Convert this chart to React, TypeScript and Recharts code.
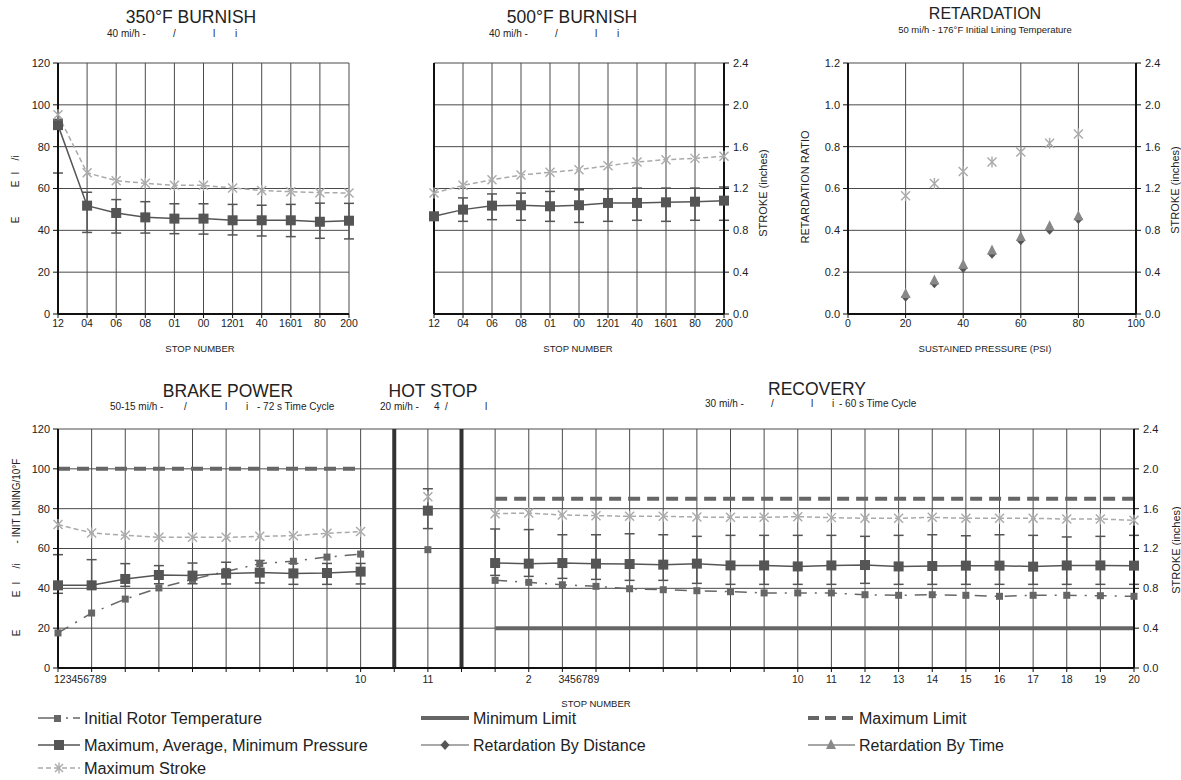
import React from 'react';
import { LineChart, ComposedChart, Line, XAxis, YAxis, CartesianGrid, ErrorBar, ReferenceLine } from 'recharts';

const FONT = '"Liberation Sans", Arial, Helvetica, sans-serif';
const TEXT = '#222';
const GRID = '#4a4a4a';
const AXIS = '#111';
const PRESS = '#555';
const TEMPC = '#666';
const STROKEC = '#aaa';
const LIMITC = '#666';
const DISTC = '#555';
const TIMEC = '#888';

// ---------- tick values ----------
const pressureTicks = [0, 20, 40, 60, 80, 100, 120];
const pressureMinorTicks = [0, 5, 10, 15, 20, 25, 30, 35, 40, 45, 50, 55, 60, 65, 70, 75, 80, 85, 90, 95, 100, 105, 110, 115, 120];
const strokeTicks = [0, 0.4, 0.8, 1.2, 1.6, 2.0, 2.4];
const strokeMinorTicks = [0, 0.1, 0.2, 0.3, 0.4, 0.5, 0.6, 0.7, 0.8, 0.9, 1.0, 1.1, 1.2, 1.3, 1.4, 1.5, 1.6, 1.7, 1.8, 1.9, 2.0, 2.1, 2.2, 2.3, 2.4];
const ratioTicks = [0, 0.2, 0.4, 0.6, 0.8, 1.0, 1.2];
const psiTicks = [0, 20, 40, 60, 80, 100];

// ---------- 350°F burnish ----------
const burnishStops = ['12', '04', '06', '08', '01', '00', '1201', '40', '1601', '80', '200'];
const b350Pressure = [90.3, 51.8, 48.3, 46.2, 45.6, 45.6, 44.8, 44.8, 44.8, 44.1, 44.6];
const b350Max = [93.0, 58.2, 54.7, 53.7, 52.7, 52.7, 52.4, 52.0, 52.4, 53.0, 52.9];
const b350Min = [67.4, 39.0, 38.7, 38.7, 38.4, 38.2, 37.8, 37.3, 37.0, 36.2, 35.9];
const b350Stroke = [1.906, 1.35, 1.275, 1.25, 1.23, 1.23, 1.205, 1.18, 1.17, 1.16, 1.157];

// ---------- 500°F burnish ----------
const b500Pressure = [46.7, 49.9, 51.8, 52.0, 51.5, 52.0, 53.1, 53.1, 53.4, 53.7, 54.2];
const b500Max = [48.5, 55.5, 57.4, 57.8, 58.6, 59.4, 59.9, 60.2, 60.2, 60.2, 60.7];
const b500Min = [45.0, 44.3, 45.1, 44.8, 44.3, 43.8, 44.3, 44.8, 44.3, 44.8, 44.8];
const b500Stroke = [1.157, 1.23, 1.284, 1.329, 1.355, 1.38, 1.418, 1.453, 1.476, 1.488, 1.508];

// ---------- retardation ----------
const retPsi = [20, 30, 40, 50, 60, 70, 80];
const retStroke = [1.13, 1.248, 1.363, 1.453, 1.549, 1.632, 1.722];
const retDistance = [0.083, 0.147, 0.22, 0.288, 0.352, 0.403, 0.454];
const retTime = [0.096, 0.16, 0.235, 0.304, 0.368, 0.419, 0.467];

// ---------- brake power ----------
const bpPressure = [41.5, 41.5, 44.7, 46.7, 46.4, 47.4, 47.9, 47.5, 47.7, 48.4];
const bpMax = [56.9, 54.4, 52.4, 51.4, 52.7, 53.1, 54.0, 52.5, 52.5, 52.5];
const bpMin = [37.5, 40.0, 41.0, 42.3, 42.3, 42.2, 42.7, 42.0, 42.0, 42.2];
const bpTemp = [17.6, 27.6, 34.6, 40.2, 44.5, 48.5, 52.4, 53.6, 55.7, 57.2];
const bpStroke = [1.44, 1.356, 1.332, 1.312, 1.312, 1.312, 1.322, 1.329, 1.352, 1.37];
const bpMaxLimit = 100;

// ---------- hot stop ----------
const hsPressure = [79];
const hsMax = [90];
const hsMin = [70];
const hsTemp = [59.4];
const hsStroke = [1.72];

// ---------- recovery ----------
const rcPressure = [52.7, 52.4, 52.7, 52.4, 52.2, 51.9, 52.4, 51.5, 51.5, 51.0, 51.5, 51.7, 51.0, 51.2, 51.4, 51.4, 50.9, 51.5, 51.5, 51.4];
const rcMax = [69.8, 69.5, 66.9, 66.9, 67.4, 66.9, 66.1, 66.6, 66.6, 66.6, 66.6, 66.1, 66.6, 66.9, 66.4, 66.9, 66.6, 65.8, 66.1, 66.6];
const rcMin = [46.5, 46.0, 45.0, 44.5, 44.0, 44.0, 42.5, 42.0, 42.0, 42.0, 42.0, 42.5, 42.0, 42.0, 42.0, 42.0, 42.0, 42.0, 42.0, 42.0];
const rcTemp = [44.0, 43.0, 41.8, 41.0, 39.8, 39.3, 38.8, 38.3, 37.7, 37.7, 37.7, 36.8, 36.5, 36.8, 36.5, 36.0, 36.5, 36.5, 36.3, 36.0];
const rcStroke = [1.55, 1.556, 1.536, 1.53, 1.523, 1.523, 1.516, 1.513, 1.513, 1.52, 1.51, 1.503, 1.503, 1.513, 1.503, 1.503, 1.503, 1.496, 1.496, 1.483];
const rcMaxLimit = 85;
const rcMinLimit = 20;

// bottom stop axis: 10 brake-power stops, separator, hot stop, separator, 20 recovery stops
const bottomPositions = [0, 1, 2, 3, 4, 5, 6, 7, 8, 9, 10, 11, 12, 13, 14, 15, 16, 17, 18, 19, 20, 21, 22, 23, 24, 25, 26, 27, 28, 29, 30, 31, 32];
const bottomTickLabels = ['123456789', '', '', '', '', '', '', '', '', '10', '', '11', '', '', '2', '3456789', '', '', '', '', '', '', '10', '11', '12', '13', '14', '15', '16', '17', '18', '19', '20'];
const separatorPositions = [10, 12];
const hotStopPosition = 11;
const recoveryFirstPosition = 13;

// ---------- data tables built from arrays ----------
const makeBurnish = (p: number[], mx: number[], mn: number[], s: number[]) =>
  burnishStops.map((stop, i) => ({ stop, pressure: p[i], err: [p[i] - mn[i], mx[i] - p[i]], stroke: s[i] }));
const b350Data = makeBurnish(b350Pressure, b350Max, b350Min, b350Stroke);
const b500Data = makeBurnish(b500Pressure, b500Max, b500Min, b500Stroke);
const retData = retPsi.map((psi, i) => ({ psi, stroke: retStroke[i], dist: retDistance[i], time: retTime[i] }));

const bottomData = bottomPositions.map((pos) => {
  if (pos < bpPressure.length) {
    const i = pos;
    return { pos, pressure: bpPressure[i], err: [bpPressure[i] - bpMin[i], bpMax[i] - bpPressure[i]], temp: bpTemp[i], stroke: bpStroke[i], maxLimit: bpMaxLimit, minLimit: null };
  }
  if (pos === hotStopPosition) {
    return { pos, pressure: hsPressure[0], err: [hsPressure[0] - hsMin[0], hsMax[0] - hsPressure[0]], temp: hsTemp[0], stroke: hsStroke[0], maxLimit: null, minLimit: null };
  }
  if (pos >= recoveryFirstPosition) {
    const i = pos - recoveryFirstPosition;
    return { pos, pressure: rcPressure[i], err: [rcPressure[i] - rcMin[i], rcMax[i] - rcPressure[i]], temp: rcTemp[i], stroke: rcStroke[i], maxLimit: rcMaxLimit, minLimit: rcMinLimit };
  }
  return { pos, pressure: null, err: null, temp: null, stroke: null, maxLimit: null, minLimit: null };
});

// ---------- markers ----------
const bad = (p: any) => p.cx == null || p.cy == null || isNaN(p.cx) || isNaN(p.cy) || p.value == null;
const squareDot = (size: number, fill: string) => (p: any) => {
  if (bad(p)) return <g key={`e${p.index}`} />;
  return <rect key={`s${p.index}`} x={p.cx - size / 2} y={p.cy - size / 2} width={size} height={size} fill={fill} />;
};
const starDot = (p: any) => {
  if (bad(p)) return <g key={`e${p.index}`} />;
  const r = 4.5;
  const { cx, cy } = p;
  return (
    <g key={`x${p.index}`} stroke={STROKEC} strokeWidth={1.4}>
      <line x1={cx - r} y1={cy - r} x2={cx + r} y2={cy + r} />
      <line x1={cx - r} y1={cy + r} x2={cx + r} y2={cy - r} />
      <line x1={cx} y1={cy - r - 1} x2={cx} y2={cy + r + 1} />
    </g>
  );
};
const diamondDot = (p: any) => {
  if (bad(p)) return <g key={`e${p.index}`} />;
  const { cx, cy } = p;
  return <polygon key={`d${p.index}`} points={`${cx},${cy - 5} ${cx + 4.5},${cy} ${cx},${cy + 5} ${cx - 4.5},${cy}`} fill={DISTC} />;
};
const triangleDot = (p: any) => {
  if (bad(p)) return <g key={`e${p.index}`} />;
  const { cx, cy } = p;
  return <polygon key={`t${p.index}`} points={`${cx},${cy - 6} ${cx + 5},${cy + 4} ${cx - 5},${cy + 4}`} fill={TIMEC} />;
};

const tickStyle = { fontSize: 11, fill: TEXT, fontFamily: FONT };
const xTickStyle = { fontSize: 10.5, fill: TEXT, fontFamily: FONT };
const axisLineStyle = { stroke: AXIS, strokeWidth: 2 };
const tickLineStyle = { stroke: AXIS, strokeWidth: 1 };
const fmt1 = (v: number) => v.toFixed(1);

const BottomTick = (props: any) => {
  const { x, y, payload } = props;
  const label = bottomTickLabels[payload.value] || '';
  if (!label) return <g />;
  const long = label.length > 2;
  return (
    <text x={long ? x - 4 : x} y={y + 9} textAnchor={long ? 'start' : 'middle'} fontSize={10.5} fill={TEXT} fontFamily={FONT}>
      {label}
    </text>
  );
};

const Rot = ({ x, y, children, size = 10 }: any) => (
  <text x={x} y={y} transform={`rotate(-90 ${x} ${y})`} textAnchor="middle" dominantBaseline="central" fontSize={size} fill={TEXT} fontFamily={FONT}>
    {children}
  </text>
);
const T = ({ x, y, children, size = 10, anchor = 'start' }: any) => (
  <text x={x} y={y} textAnchor={anchor} fontSize={size} fill={TEXT} fontFamily={FONT}>
    {children}
  </text>
);

const BurnishChart = ({ data, showLeftLabels }: any) => (
  <LineChart width={400} height={360} data={data} margin={showLeftLabels ? { top: 63, right: 51, bottom: 16, left: 18 } : { top: 63, right: 36, bottom: 16, left: 34 }}>
    <CartesianGrid stroke={GRID} yAxisId={showLeftLabels ? 'p' : 's'} />
    <XAxis dataKey="stop" scale="point" padding={{ left: 0, right: 0 }} interval={0} height={30} axisLine={axisLineStyle} tickLine={tickLineStyle} tickSize={4} tick={xTickStyle} />
    {showLeftLabels ? (
      <YAxis yAxisId="p" type="number" domain={[0, 120]} ticks={pressureTicks} interval={0} width={40} axisLine={axisLineStyle} tickLine={tickLineStyle} tickSize={5} tickMargin={3} tick={tickStyle} />
    ) : (
      <YAxis yAxisId="p" type="number" domain={[0, 120]} ticks={pressureMinorTicks} interval={0} width={10} mirror tick={false} axisLine={axisLineStyle} tickLine={tickLineStyle} tickSize={4} />
    )}
    {showLeftLabels ? (
      <YAxis yAxisId="s" orientation="right" type="number" domain={[0, 2.4]} hide />
    ) : (
      <YAxis yAxisId="s" orientation="right" type="number" domain={[0, 2.4]} ticks={strokeTicks} interval={0} tickFormatter={fmt1} width={40} axisLine={axisLineStyle} tickLine={tickLineStyle} tickSize={5} tickMargin={4} tick={tickStyle} />
    )}
    <Line yAxisId="p" dataKey="pressure" stroke={PRESS} strokeWidth={1.5} dot={squareDot(10, PRESS)} isAnimationActive={false}>
      <ErrorBar dataKey="err" width={5} stroke={PRESS} strokeWidth={1.5} direction="y" />
    </Line>
    <Line yAxisId="s" dataKey="stroke" stroke={STROKEC} strokeWidth={1.5} strokeDasharray="5 3" dot={starDot} isAnimationActive={false} />
  </LineChart>
);

const Legend = () => (
  <g fontFamily={FONT} fontSize={16.3} fill={TEXT}>
    {/* row 1 */}
    <line x1={38} y1={718} x2={54} y2={718} stroke={TEMPC} strokeWidth={1.5} />
    <rect x={54} y={715} width={7} height={7} fill={TEMPC} />
    <line x1={66} y1={718} x2={68} y2={718} stroke={TEMPC} strokeWidth={1.5} />
    <line x1={73} y1={718} x2={80} y2={718} stroke={TEMPC} strokeWidth={1.5} />
    <text x={84} y={724}>Initial Rotor Temperature</text>
    <line x1={421} y1={718} x2={469} y2={718} stroke={LIMITC} strokeWidth={4} />
    <text x={473} y={724} fontSize={16}>Minimum Limit</text>
    <line x1={808} y1={718} x2={855} y2={718} stroke={LIMITC} strokeWidth={4} strokeDasharray="11 6" />
    <text x={859} y={724} fontSize={16}>Maximum Limit</text>
    {/* row 2 */}
    <line x1={38} y1={745} x2={80} y2={745} stroke={PRESS} strokeWidth={1.5} />
    <rect x={54} y={740} width={10} height={10} fill={PRESS} />
    <text x={84} y={751}>Maximum, Average, Minimum Pressure</text>
    <line x1={421} y1={745} x2={469} y2={745} stroke={DISTC} strokeWidth={1.2} />
    <polygon points="445,740 449.5,745 445,750 440.5,745" fill={DISTC} />
    <text x={473} y={751} fontSize={16}>Retardation By Distance</text>
    <line x1={808} y1={745} x2={855} y2={745} stroke={TIMEC} strokeWidth={1.5} />
    <polygon points="831,739 836,749 826,749" fill={TIMEC} />
    <text x={859} y={751} fontSize={16}>Retardation By Time</text>
    {/* row 3 */}
    <line x1={38} y1={768} x2={80} y2={768} stroke={STROKEC} strokeWidth={1.5} strokeDasharray="5 3" />
    <g stroke={STROKEC} strokeWidth={1.4}>
      <line x1={55} y1={764} x2={63} y2={772} />
      <line x1={55} y1={772} x2={63} y2={764} />
      <line x1={59} y1={762.5} x2={59} y2={773.5} />
    </g>
    <text x={84} y={774}>Maximum Stroke</text>
  </g>
);

export default function App() {
  return (
    <div style={{ position: 'absolute', left: 0, top: 0, width: 1181, height: 780, background: '#fff', overflow: 'hidden' }}>
      {/* 350°F burnish */}
      <div style={{ position: 'absolute', left: 0, top: 0 }}>
        <BurnishChart data={b350Data} showLeftLabels />
      </div>
      {/* 500°F burnish */}
      <div style={{ position: 'absolute', left: 400, top: 0 }}>
        <BurnishChart data={b500Data} showLeftLabels={false} />
      </div>
      {/* retardation */}
      <div style={{ position: 'absolute', left: 790, top: 0 }}>
        <ComposedChart width={391} height={360} data={retData} margin={{ top: 63, right: 5, bottom: 16, left: 18 }}>
          <CartesianGrid stroke={GRID} yAxisId="r" />
          <XAxis dataKey="psi" type="number" domain={[0, 100]} ticks={psiTicks} interval={0} height={30} axisLine={axisLineStyle} tickLine={tickLineStyle} tickSize={4} tick={xTickStyle} />
          <YAxis yAxisId="r" type="number" domain={[0, 1.2]} ticks={ratioTicks} interval={0} tickFormatter={fmt1} width={40} axisLine={axisLineStyle} tickLine={tickLineStyle} tickSize={5} tickMargin={3} tick={tickStyle} />
          <YAxis yAxisId="sm" orientation="right" type="number" domain={[0, 2.4]} ticks={strokeMinorTicks} interval={0} width={10} mirror tick={false} axisLine={false} tickLine={tickLineStyle} tickSize={4} />
          <YAxis yAxisId="s" orientation="right" type="number" domain={[0, 2.4]} ticks={strokeTicks} interval={0} tickFormatter={fmt1} width={40} axisLine={axisLineStyle} tickLine={tickLineStyle} tickSize={5} tickMargin={4} tick={tickStyle} />
          <Line yAxisId="r" dataKey="dist" stroke="none" dot={diamondDot} isAnimationActive={false} />
          <Line yAxisId="r" dataKey="time" stroke="none" dot={triangleDot} isAnimationActive={false} />
          <Line yAxisId="s" dataKey="stroke" stroke="none" dot={starDot} isAnimationActive={false} />
        </ComposedChart>
      </div>
      {/* brake power / hot stop / recovery */}
      <div style={{ position: 'absolute', left: 0, top: 370 }}>
        <ComposedChart width={1181} height={340} data={bottomData} margin={{ top: 59, right: 7, bottom: 22, left: 18 }}>
          <CartesianGrid stroke={GRID} yAxisId="p" />
          <XAxis dataKey="pos" type="number" domain={[0, 32]} ticks={bottomPositions} interval={0} height={20} axisLine={axisLineStyle} tickLine={tickLineStyle} tickSize={4} tick={<BottomTick />} />
          <YAxis yAxisId="p" type="number" domain={[0, 120]} ticks={pressureTicks} interval={0} width={40} axisLine={axisLineStyle} tickLine={tickLineStyle} tickSize={5} tickMargin={3} tick={tickStyle} />
          <YAxis yAxisId="pm" type="number" domain={[0, 120]} ticks={pressureMinorTicks} interval={0} width={10} mirror tick={false} axisLine={false} tickLine={tickLineStyle} tickSize={4} />
          <YAxis yAxisId="sm" orientation="right" type="number" domain={[0, 2.4]} ticks={strokeMinorTicks} interval={0} width={10} mirror tick={false} axisLine={false} tickLine={tickLineStyle} tickSize={4} />
          <YAxis yAxisId="s" orientation="right" type="number" domain={[0, 2.4]} ticks={strokeTicks} interval={0} tickFormatter={fmt1} width={40} axisLine={axisLineStyle} tickLine={tickLineStyle} tickSize={5} tickMargin={4} tick={tickStyle} />
          {separatorPositions.map((x) => (
            <ReferenceLine key={x} x={x} yAxisId="p" stroke="#333" strokeWidth={4} />
          ))}
          <Line yAxisId="p" dataKey="maxLimit" stroke={LIMITC} strokeWidth={4} strokeDasharray="12 7" dot={false} isAnimationActive={false} />
          <Line yAxisId="p" dataKey="minLimit" stroke={LIMITC} strokeWidth={4} dot={false} isAnimationActive={false} />
          <Line yAxisId="p" dataKey="temp" stroke={TEMPC} strokeWidth={1.5} strokeDasharray="12 8 2 8" dot={squareDot(7, TEMPC)} isAnimationActive={false} />
          <Line yAxisId="p" dataKey="pressure" stroke={PRESS} strokeWidth={1.5} dot={squareDot(10, PRESS)} isAnimationActive={false}>
            <ErrorBar dataKey="err" width={5} stroke={PRESS} strokeWidth={1.5} direction="y" />
          </Line>
          <Line yAxisId="s" dataKey="stroke" stroke={STROKEC} strokeWidth={1.5} strokeDasharray="5 3" dot={starDot} isAnimationActive={false} />
        </ComposedChart>
      </div>
      {/* text overlay */}
      <svg width={1181} height={780} style={{ position: 'absolute', left: 0, top: 0, pointerEvents: 'none' }}>
        <T x={191} y={23} size={17.5} anchor="middle">350°F BURNISH</T>
        <T x={107} y={37}>40 mi/h -</T>
        <T x={173} y={37}>/</T>
        <T x={213} y={37}>l</T>
        <T x={235} y={37}>i</T>

        <T x={572} y={23} size={17.5} anchor="middle">500°F BURNISH</T>
        <T x={489} y={37}>40 mi/h -</T>
        <T x={555} y={37}>/</T>
        <T x={595} y={37}>l</T>
        <T x={617} y={37}>i</T>

        <T x={985} y={19} size={16} anchor="middle">RETARDATION</T>
        <T x={985} y={33} size={9.5} anchor="middle">50 mi/h - 176°F Initial Lining Temperature</T>

        <Rot x={15} y={158}>/i</Rot>
        <Rot x={15} y={173}>l</Rot>
        <Rot x={15} y={184}>E</Rot>
        <Rot x={15} y={220}>E</Rot>
        <Rot x={763} y={193} size={11}>STROKE (inches)</Rot>
        <Rot x={805} y={187} size={11}>RETARDATION RATIO</Rot>
        <Rot x={1175} y={190} size={11}>STROKE (inches)</Rot>

        <T x={200} y={352} size={9.5} anchor="middle">STOP NUMBER</T>
        <T x={578} y={352} size={9.5} anchor="middle">STOP NUMBER</T>
        <T x={985} y={352} size={9.5} anchor="middle">SUSTAINED PRESSURE (PSI)</T>

        <T x={228} y={397} size={17.5} anchor="middle">BRAKE POWER</T>
        <T x={110} y={410}>50-15 mi/h -</T>
        <T x={184} y={410}>/</T>
        <T x={225} y={410}>l</T>
        <T x={246} y={410}>i</T>
        <T x={257} y={410}>- 72 s Time Cycle</T>

        <T x={433} y={397} size={17.5} anchor="middle">HOT STOP</T>
        <T x={380} y={410}>20 mi/h -</T>
        <T x={434} y={410}>4</T>
        <T x={445} y={410}>/</T>
        <T x={485} y={410}>l</T>

        <T x={817} y={395} size={17.5} anchor="middle">RECOVERY</T>
        <T x={705} y={407}>30 mi/h -</T>
        <T x={771} y={407}>/</T>
        <T x={811} y={407}>l</T>
        <T x={832} y={407}>i</T>
        <T x={839} y={407}>- 60 s Time Cycle</T>

        <Rot x={16} y={501}>- INIT LINING/10°F</Rot>
        <Rot x={16} y={566}>/i</Rot>
        <Rot x={16} y={583}>l</Rot>
        <Rot x={16} y={594}>E</Rot>
        <Rot x={16} y={633}>E</Rot>
        <Rot x={1176} y={550} size={11}>STROKE (inches)</Rot>

        <T x={596} y={707} size={9.5} anchor="middle">STOP NUMBER</T>

        <Legend />
      </svg>
    </div>
  );
}
